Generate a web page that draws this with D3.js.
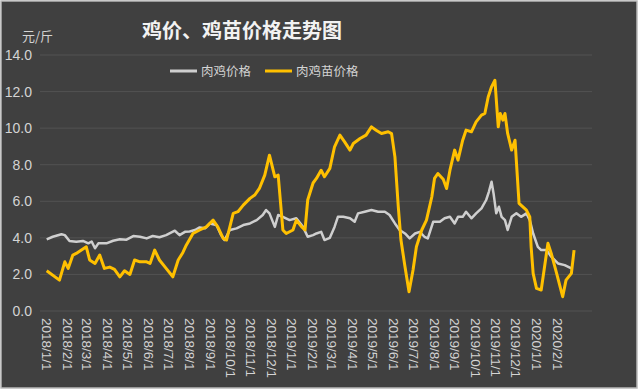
<!DOCTYPE html>
<html><head><meta charset="utf-8">
<script src="https://cdn.jsdelivr.net/npm/d3@7"></script>
<style>html,body{margin:0;padding:0;background:#fff}svg{display:block}</style>
</head><body>
<svg id="chart" width="640" height="391"></svg>
<script>
// ---- data ----
const title = "鸡价、鸡苗价格走势图";
const unitLabel = "元/斤";
const seriesNames = ["肉鸡价格", "肉鸡苗价格"];
const yTicks = [0, 2, 4, 6, 8, 10, 12, 14];
const xTickLabels = ["2018/1/1","2018/2/1","2018/3/1","2018/4/1","2018/5/1","2018/6/1","2018/7/1","2018/8/1","2018/9/1","2018/10/1","2018/11/1","2018/12/1","2019/1/1","2019/2/1","2019/3/1","2019/4/1","2019/5/1","2019/6/1","2019/7/1","2019/8/1","2019/9/1","2019/10/1","2019/11/1","2019/12/1","2020/1/1","2020/2/1"];

const broilerDates = ["2018-01-01","2018-01-10","2018-01-23","2018-01-28","2018-02-04","2018-02-14","2018-02-24","2018-03-04","2018-03-09","2018-03-14","2018-03-19","2018-03-31","2018-04-10","2018-04-20","2018-04-30","2018-05-10","2018-05-20","2018-05-30","2018-06-08","2018-06-18","2018-06-28","2018-07-11","2018-07-18","2018-07-26","2018-08-02","2018-08-10","2018-08-17","2018-08-25","2018-09-01","2018-09-11","2018-09-18","2018-09-23","2018-10-01","2018-10-11","2018-10-21","2018-10-31","2018-11-10","2018-11-19","2018-11-24","2018-11-29","2018-12-07","2018-12-12","2018-12-19","2018-12-29","2019-01-08","2019-01-18","2019-01-25","2019-02-02","2019-02-07","2019-02-14","2019-02-19","2019-02-27","2019-03-06","2019-03-11","2019-03-19","2019-03-29","2019-04-05","2019-04-10","2019-04-20","2019-04-30","2019-05-10","2019-05-20","2019-05-27","2019-06-04","2019-06-11","2019-06-19","2019-06-26","2019-07-04","2019-07-11","2019-07-18","2019-07-23","2019-07-31","2019-08-10","2019-08-17","2019-08-25","2019-09-01","2019-09-06","2019-09-13","2019-09-18","2019-09-26","2019-10-03","2019-10-11","2019-10-18","2019-10-22","2019-10-26","2019-10-29","2019-11-02","2019-11-06","2019-11-10","2019-11-15","2019-11-19","2019-11-25","2019-12-02","2019-12-09","2019-12-17","2019-12-22","2019-12-27","2020-01-03","2020-01-08","2020-01-16","2020-01-23","2020-02-02","2020-02-12","2020-02-22"];
const broilerPrice = [3.92,4.06,4.20,4.15,3.83,3.79,3.83,3.70,3.80,3.43,3.70,3.70,3.84,3.92,3.90,4.10,4.06,3.97,4.10,4.03,4.15,4.39,4.15,4.33,4.35,4.43,4.57,4.52,4.79,4.70,4.15,3.88,4.43,4.52,4.70,4.79,4.97,5.25,5.52,5.34,4.60,5.25,5.15,4.97,5.07,4.60,4.06,4.15,4.24,4.33,3.88,4.00,4.60,5.15,5.15,5.07,4.88,5.34,5.43,5.52,5.43,5.43,5.25,4.79,4.43,4.24,3.97,4.24,4.33,4.06,3.97,4.88,4.88,5.07,5.15,4.79,5.15,5.15,5.43,5.07,5.34,5.61,6.07,6.52,7.07,6.43,5.34,5.70,5.15,4.97,4.43,5.15,5.34,5.15,5.34,4.97,4.24,3.51,3.33,3.33,2.97,2.60,2.51,2.33];

const chickDates = ["2018-01-01","2018-01-20","2018-01-28","2018-02-02","2018-02-09","2018-02-14","2018-03-01","2018-03-06","2018-03-14","2018-03-21","2018-03-28","2018-04-05","2018-04-12","2018-04-20","2018-04-27","2018-05-05","2018-05-12","2018-05-20","2018-05-30","2018-06-04","2018-06-11","2018-06-18","2018-06-28","2018-07-08","2018-07-16","2018-07-23","2018-07-28","2018-08-07","2018-08-17","2018-08-27","2018-09-06","2018-09-13","2018-09-21","2018-09-26","2018-10-06","2018-10-13","2018-10-21","2018-10-31","2018-11-07","2018-11-14","2018-11-22","2018-11-29","2018-12-07","2018-12-12","2018-12-19","2018-12-24","2019-01-03","2019-01-08","2019-01-16","2019-01-21","2019-01-25","2019-02-02","2019-02-07","2019-02-14","2019-02-19","2019-02-27","2019-03-06","2019-03-14","2019-03-21","2019-03-29","2019-04-03","2019-04-13","2019-04-22","2019-04-30","2019-05-07","2019-05-15","2019-05-25","2019-05-30","2019-06-04","2019-06-09","2019-06-13","2019-06-19","2019-06-25","2019-07-01","2019-07-06","2019-07-14","2019-07-21","2019-07-29","2019-08-02","2019-08-07","2019-08-15","2019-08-20","2019-08-25","2019-09-01","2019-09-06","2019-09-13","2019-09-18","2019-09-26","2019-10-03","2019-10-11","2019-10-16","2019-10-21","2019-10-26","2019-10-31","2019-11-05","2019-11-08","2019-11-12","2019-11-15","2019-11-19","2019-11-25","2019-11-30","2019-12-06","2019-12-17","2019-12-22","2019-12-24","2019-12-27","2020-01-01","2020-01-08","2020-01-13","2020-01-18","2020-01-23","2020-01-31","2020-02-09","2020-02-14","2020-02-22","2020-02-26"];
const chickPrice = [2.20,1.69,2.69,2.33,3.06,3.15,3.51,2.79,2.60,3.06,2.33,2.40,2.28,1.87,2.20,2.00,2.79,2.69,2.69,2.60,3.33,2.79,2.33,1.87,2.79,3.20,3.60,4.24,4.43,4.60,4.97,4.60,3.97,3.88,5.34,5.43,5.79,6.16,6.34,6.70,7.43,8.52,7.34,7.43,4.43,4.24,4.43,4.97,4.60,4.43,6.07,7.00,7.25,7.70,7.34,7.80,8.98,9.62,9.25,8.80,9.16,9.43,9.62,10.07,9.89,9.71,9.80,9.70,8.43,5.70,3.88,2.42,1.05,2.24,3.51,4.43,4.97,6.25,7.25,7.52,7.20,6.70,7.70,8.80,8.25,9.34,9.89,9.80,10.34,10.71,10.80,11.70,12.26,12.62,10.07,10.80,10.44,10.80,9.71,8.80,9.34,5.89,5.52,5.15,3.51,2.06,1.24,1.15,2.42,3.70,3.15,2.06,0.78,1.69,2.06,3.33];

// ---- drawing ----
const W = 640, H = 391;
const svg = d3.select("#chart");
const parse = d3.timeParse("%Y-%m-%d");
const parseTick = d3.timeParse("%Y/%-m/%-d");

svg.append("rect").attr("x", 0).attr("y", 0).attr("width", W).attr("height", H).attr("fill", "#ffffff");
svg.append("rect").attr("x", 1).attr("y", 1).attr("width", 636).attr("height", 387)
  .attr("fill", "#404040").attr("stroke", "#b8b8b8").attr("stroke-width", 1.5);

const x = d3.scaleTime().domain([parseTick("2018/1/1"), parseTick("2020/2/1")]).range([46.7, 557.3]);
const y = d3.scaleLinear().domain([0, 14]).range([311, 55]);

// grid
svg.append("g").selectAll("line").data(yTicks).join("line")
  .attr("x1", 40).attr("x2", 592)
  .attr("y1", d => y(d)).attr("y2", d => y(d))
  .attr("stroke", "#525252").attr("stroke-width", 1);

// y axis labels
const yAxis = d3.axisLeft(y).tickValues(yTicks).tickFormat(d3.format(".1f")).tickSize(0).tickPadding(0);
const gy = svg.append("g").attr("transform", "translate(32,0)").call(yAxis);
gy.select(".domain").remove();
gy.selectAll("text").attr("fill", "#d4d4d4").style("font-family", "Liberation Sans, Arial, sans-serif").style("font-size", "14px");

// x axis labels
const xAxis = d3.axisBottom(x).tickValues(xTickLabels.map(parseTick))
  .tickFormat((d, i) => xTickLabels[i]).tickSize(0).tickPadding(0);
const gx = svg.append("g").attr("transform", "translate(0,318)").call(xAxis);
gx.select(".domain").remove();
gx.selectAll("text")
  .attr("fill", "#d4d4d4")
  .style("font-family", "Liberation Sans, Arial, sans-serif").style("font-size", "13.5px")
  .attr("text-anchor", "start").attr("dy", "0.35em").attr("y", 0)
  .attr("transform", "rotate(90)");

// lines
const broiler = broilerDates.map((d, i) => ({ date: parse(d), v: broilerPrice[i] }));
const chick = chickDates.map((d, i) => ({ date: parse(d), v: chickPrice[i] }));
const line = d3.line().x(d => x(d.date)).y(d => y(d.v));

svg.append("path").datum(broiler).attr("d", line).attr("fill", "none")
  .attr("stroke", "#cfcfcf").attr("stroke-width", 2.5).attr("stroke-linejoin", "round");
svg.append("path").datum(chick).attr("d", line).attr("fill", "none")
  .attr("stroke", "#ffc000").attr("stroke-width", 3).attr("stroke-linejoin", "round");

// title
svg.append("text").attr("x", 242).attr("y", 38).attr("text-anchor", "middle")
  .attr("fill", "#f2f2f2").style("font-family", "Noto Sans CJK SC, sans-serif")
  .style("font-size", "20px").style("font-weight", "700").text(title);

// unit
svg.append("text").attr("x", 22).attr("y", 41).attr("fill", "#d4d4d4")
  .style("font-family", "Noto Sans CJK SC, sans-serif").style("font-size", "13px").text(unitLabel);

// legend
const legend = [
  { name: seriesNames[0], color: "#cfcfcf", x: 170 },
  { name: seriesNames[1], color: "#ffc000", x: 265 }
];
const lg = svg.append("g").selectAll("g").data(legend).join("g");
lg.append("line").attr("x1", d => d.x).attr("x2", d => d.x + 27).attr("y1", 71).attr("y2", 71)
  .attr("stroke", d => d.color).attr("stroke-width", 3);
lg.append("text").attr("x", d => d.x + 31).attr("y", 76).attr("fill", "#d4d4d4")
  .style("font-family", "Noto Sans CJK SC, sans-serif").style("font-size", "12.5px").text(d => d.name);
</script>
</body></html>
